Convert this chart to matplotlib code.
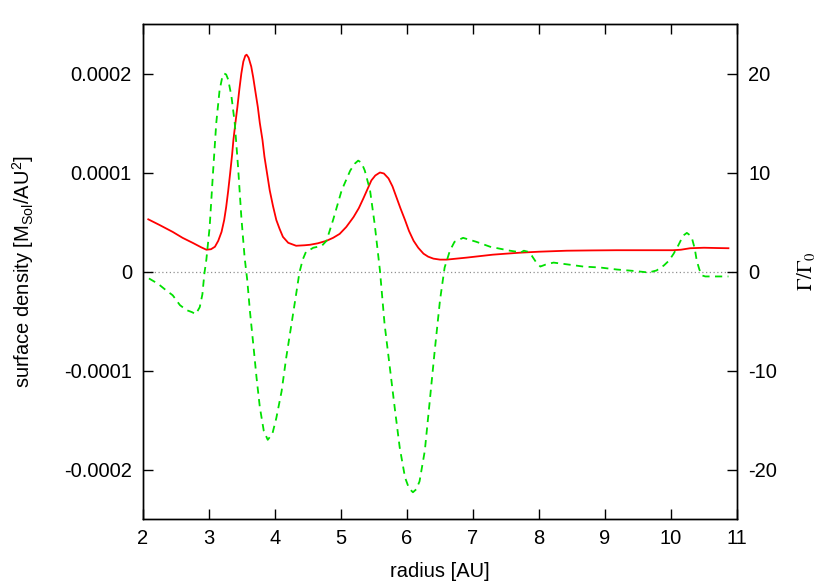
import matplotlib
matplotlib.use("Agg")
import matplotlib.pyplot as plt

plt.rcParams['font.family'] = ['Liberation Sans', 'DejaVu Sans']
plt.rcParams['mathtext.default'] = 'regular'
plt.rcParams['axes.unicode_minus'] = False
plt.rcParams['font.size'] = 14.5

# surface density (in units of 1e-4 M_Sol/AU^2) vs radius
r_sigma = [2.08, 2.25, 2.45, 2.6, 2.76, 2.88, 2.96, 3.03, 3.09, 3.14, 3.19, 3.23, 3.26, 3.29,
           3.32, 3.35, 3.37, 3.40, 3.43, 3.46, 3.49, 3.52, 3.55, 3.57, 3.60, 3.64, 3.67, 3.70,
           3.74, 3.77, 3.81, 3.84, 3.88, 3.92, 3.97, 4.02, 4.07, 4.12, 4.20, 4.32, 4.45, 4.53,
           4.65, 4.78, 4.88, 4.98, 5.08, 5.19, 5.27, 5.34, 5.40, 5.46, 5.52, 5.59, 5.65, 5.72,
           5.78, 5.84, 5.90, 5.97, 6.03, 6.10, 6.17, 6.25, 6.32, 6.40, 6.50, 6.60, 6.75, 6.90,
           7.10, 7.30, 7.50, 7.71, 8.00, 8.42, 8.80, 9.18, 9.60, 10.03, 10.15, 10.29, 10.50,
           10.70, 10.87]
sigma = [0.527, 0.47, 0.40, 0.34, 0.287, 0.245, 0.22, 0.225, 0.25, 0.31, 0.40, 0.52, 0.65, 0.81,
         0.99, 1.18, 1.33, 1.50, 1.66, 1.84, 2.00, 2.12, 2.18, 2.19, 2.16, 2.07, 1.96, 1.83,
         1.66, 1.50, 1.33, 1.16, 0.99, 0.82, 0.66, 0.52, 0.43, 0.35, 0.29, 0.26, 0.265, 0.27,
         0.285, 0.31, 0.34, 0.38, 0.45, 0.55, 0.64, 0.74, 0.83, 0.92, 0.97, 1.00, 0.99, 0.94,
         0.86, 0.75, 0.64, 0.52, 0.41, 0.31, 0.24, 0.18, 0.15, 0.13, 0.12, 0.12, 0.13, 0.14,
         0.155, 0.17, 0.18, 0.19, 0.20, 0.21, 0.213, 0.215, 0.215, 0.215, 0.22, 0.235, 0.24,
         0.237, 0.235]

# torque Gamma/Gamma_0 vs radius
r_gamma = [2.09, 2.23, 2.35, 2.45, 2.56, 2.66, 2.74, 2.80, 2.86, 2.90, 2.93, 2.96, 3.01, 3.06,
           3.11, 3.16, 3.20, 3.23, 3.26, 3.29, 3.34, 3.39, 3.44, 3.49, 3.54, 3.58, 3.62, 3.67,
           3.72, 3.77, 3.83, 3.89, 3.96, 4.02, 4.10, 4.17, 4.25, 4.32, 4.37, 4.42, 4.47, 4.53,
           4.58, 4.65, 4.71, 4.78, 4.88, 5.01, 5.14, 5.21, 5.26, 5.31, 5.36, 5.44, 5.51, 5.59,
           5.66, 5.74, 5.82, 5.89, 5.97, 6.03, 6.09, 6.14, 6.19, 6.27, 6.34, 6.42, 6.50, 6.57,
           6.65, 6.72, 6.85, 7.05, 7.26, 7.41, 7.56, 7.66, 7.72, 7.77, 7.83, 7.89, 7.95, 8.02,
           8.10, 8.22, 8.45, 8.67, 8.93, 9.18, 9.45, 9.66, 9.78, 9.89, 9.97, 10.04, 10.10, 10.16,
           10.20, 10.24, 10.28, 10.32, 10.36, 10.39, 10.43, 10.47, 10.52, 10.59, 10.87]
gamma = [-0.7, -1.25, -1.9, -2.4, -3.4, -3.9, -4.1, -4.3, -3.6, -2.3, -0.2, 1.2, 4.5, 9.9,
         15.0, 18.3, 19.6, 20.0, 19.9, 19.4, 17.7, 15.0, 10.6, 5.5, 1.4, -0.9, -4.0, -7.3,
         -10.7, -13.7, -16.1, -17.0, -16.4, -14.8, -12.1, -8.7, -5.3, -2.3, -0.1, 1.2, 2.0, 2.2,
         2.4, 2.5, 2.6, 3.1, 5.2, 8.2, 10.2, 10.9, 11.2, 11.0, 10.2, 8.2, 4.8, 0.1,
         -5.3, -9.7, -14.1, -17.8, -20.8, -21.9, -22.3, -22.0, -21.2, -18.1, -13.4, -8.0, -2.9, 0.4,
         2.1, 3.0, 3.4, 3.0, 2.5, 2.3, 2.1, 2.0, 1.9, 2.1, 2.0, 1.6, 1.0, 0.5,
         0.7, 0.9, 0.7, 0.5, 0.4, 0.2, 0.05, -0.1, 0.1, 0.6, 1.1, 1.8, 2.5, 3.3,
         3.7, 3.9, 3.7, 3.3, 2.3, 1.1, 0.2, -0.4, -0.5, -0.5, -0.5]

left_ticks = [-2, -1, 0, 1, 2]
left_labels = ['-0.0002', '-0.0001', '0', '0.0001', '0.0002']
right_ticks = [-20, -10, 0, 10, 20]
x_ticks = [2, 3, 4, 5, 6, 7, 8, 9, 10, 11]

fig = plt.figure(figsize=(8.3, 5.81), dpi=100)
ax = fig.add_axes([143 / 830, 62 / 581, 594 / 830, 495 / 581])
ax2 = ax.twinx()

# zero line
ax.axhline(0, color='#909090', lw=0.9, ls=(0, (1, 2)), zorder=1)

ax.plot(r_sigma, sigma, color='#ff0000', lw=1.3, zorder=3)
ax2.plot(r_gamma, gamma, color='#00e000', lw=1.3, ls=(0, (4, 3)), zorder=2)

ax.set_xlim(2, 11)
ax.set_ylim(-2.5, 2.5)
ax2.set_ylim(-25, 25)

ax.set_xticks(x_ticks)
ax.set_yticks(left_ticks)
ax.set_yticklabels(left_labels)
ax2.set_yticks(right_ticks)

ax.tick_params(axis='x', direction='in', top=True, length=7, width=1, pad=7)
ax.tick_params(axis='y', direction='in', left=True, right=False, length=7, width=1, pad=8)
ax2.tick_params(axis='y', direction='in', right=True, left=False, length=7, width=1, pad=8)

for a in (ax, ax2):
    for s in a.spines.values():
        s.set_linewidth(1)

ax.set_xlabel('radius [AU]', labelpad=10)
ax.set_ylabel('surface density [M$_{Sol}$/AU$^2$]', labelpad=20)
ax2.set_ylabel(r'$\mathrm{\Gamma/\Gamma_0}$', math_fontfamily='stix', fontsize=15,
               labelpad=13)

fig.savefig('out.png', dpi=100)
